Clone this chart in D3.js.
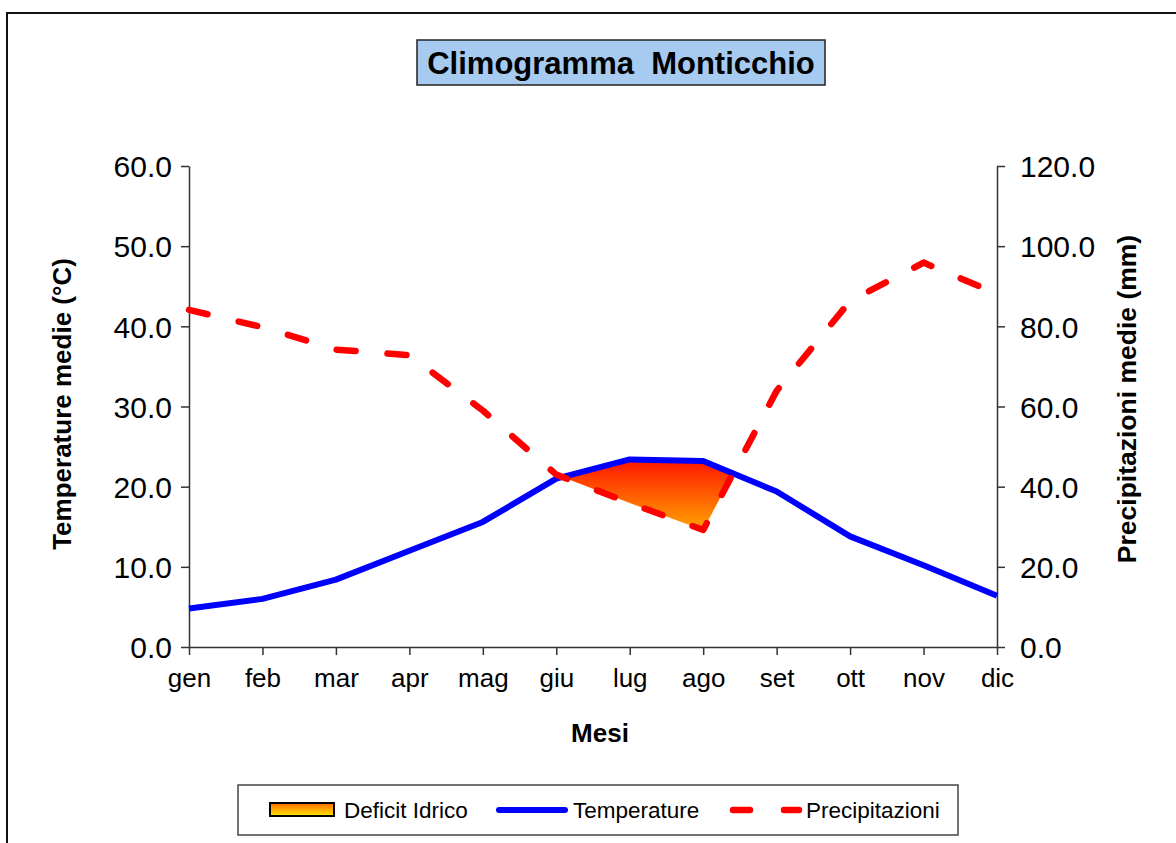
<!DOCTYPE html>
<html><head><meta charset="utf-8">
<script src="https://cdn.jsdelivr.net/npm/d3@7"></script>
<style>body{margin:0;background:#fff}svg{display:block}text{font-family:"Liberation Sans",Arial,sans-serif;fill:#000}</style>
</head><body>
<svg id="c" width="1176" height="843"></svg>
<script>
const months = ["gen","feb","mar","apr","mag","giu","lug","ago","set","ott","nov","dic"];
const temperature = [4.8, 6.0, 8.4, 12.0, 15.6, 21.0, 23.4, 23.2, 19.4, 13.8, 10.2, 6.4];
const precipitation = [84.1, 79.8, 74.2, 72.8, 59.0, 43.0, 35.9, 29.2, 63.9, 86.3, 95.9, 88.1];
const leftTicks = [0,10,20,30,40,50,60];
const rightTicks = [0,20,40,60,80,100,120];

const svg = d3.select("#c");
const L = 189, R = 997, T = 166, B = 647;
const x = d3.scalePoint().domain(months).range([L, R]);
const yT = d3.scaleLinear().domain([0,60]).range([B, T]);
const yP = d3.scaleLinear().domain([0,120]).range([B, T]);

// outer frame
svg.append("rect").attr("x",7).attr("y",13).attr("width",1300).attr("height",1000)
  .attr("fill","none").attr("stroke","#111").attr("stroke-width",2);

// gradients
const defs = svg.append("defs");
const g1 = defs.append("linearGradient").attr("id","defGrad").attr("x1",0).attr("y1",0).attr("x2",0).attr("y2",1);
g1.append("stop").attr("offset","0%").attr("stop-color","#ff1400");
g1.append("stop").attr("offset","100%").attr("stop-color","#ffa500");
const g2 = defs.append("linearGradient").attr("id","legGrad").attr("x1",0).attr("y1",0).attr("x2",0).attr("y2",1);
g2.append("stop").attr("offset","0%").attr("stop-color","#ff6a00");
g2.append("stop").attr("offset","100%").attr("stop-color","#ffe600");

// title
svg.append("rect").attr("x",417).attr("y",40).attr("width",408).attr("height",45)
  .attr("fill","#a6caf0").attr("stroke","#222").attr("stroke-width",1.5);
svg.append("text").attr("x",621).attr("y",74).attr("text-anchor","middle")
  .attr("font-size",31).attr("font-weight","bold").attr("xml:space","preserve")
  .style("white-space","pre").text("Climogramma  Monticchio");

// deficit polygon (where precipitation < 2*temperature, in mm units)
const n = months.length;
const tmm = temperature.map(v => v*2);
const polys = [];
let cur = null;
for (let i = 0; i < n; i++) {
  const d = tmm[i] - precipitation[i];
  if (i > 0) {
    const dp = tmm[i-1] - precipitation[i-1];
    if ((dp > 0) !== (d > 0)) {
      const f = dp / (dp - d);
      const xi = x(months[i-1]) + f*(x(months[i]) - x(months[i-1]));
      const vi = tmm[i-1] + f*(tmm[i]-tmm[i-1]);
      const pt = [xi, yP(vi)];
      if (d > 0) { cur = {up:[pt], lo:[pt]}; }
      else if (cur) { cur.up.push(pt); polys.push(cur); cur = null; }
    }
  }
  if (d > 0) {
    if (!cur) cur = {up:[], lo:[]};
    cur.up.push([x(months[i]), yP(tmm[i])]);
    cur.lo.push([x(months[i]), yP(precipitation[i])]);
  }
}
if (cur) polys.push(cur);
polys.forEach(p => {
  const pts = p.up.concat(p.lo.slice().reverse());
  svg.append("path").attr("d", d3.line()(pts) + "Z").attr("fill","url(#defGrad)").attr("stroke","none");
});

// axes
const axL = svg.append("g").attr("transform",`translate(${L},0)`)
  .call(d3.axisLeft(yT).tickValues(leftTicks).tickFormat(d3.format(".1f")).tickSize(8).tickSizeOuter(0));
const axR = svg.append("g").attr("transform",`translate(${R},0)`)
  .call(d3.axisRight(yP).tickValues(rightTicks).tickFormat(d3.format(".1f")).tickSize(8).tickSizeOuter(0));
const axB = svg.append("g").attr("transform",`translate(0,${B})`)
  .call(d3.axisBottom(x).tickSize(8).tickSizeOuter(0));
[axL, axR, axB].forEach(a => {
  a.selectAll("path,line").attr("stroke","#333").attr("stroke-width",1.5);
  a.selectAll("text").attr("font-family","Liberation Sans, Arial, sans-serif").attr("fill","#000");
});
axL.selectAll("text").attr("font-size",30).attr("x",-17).attr("dy","0.36em");
axR.selectAll("text").attr("font-size",30).attr("x",23).attr("dy","0.36em");
axB.selectAll("text").attr("font-size",26).attr("y",40).attr("dy",0);

// lines
svg.append("path").datum(temperature)
  .attr("d", d3.line().x((d,i)=>x(months[i])).y(d=>yT(d)))
  .attr("fill","none").attr("stroke","#0000ff").attr("stroke-width",6).attr("stroke-linejoin","round");
svg.append("path").datum(precipitation)
  .attr("d", d3.line().x((d,i)=>x(months[i])).y(d=>yP(d)))
  .attr("fill","none").attr("stroke","#ff0000").attr("stroke-width",6.5)
  .attr("stroke-dasharray","19,32").attr("stroke-linecap","round").attr("stroke-linejoin","round");

// axis titles
svg.append("text").attr("transform","translate(71,404) rotate(-90)").attr("text-anchor","middle")
  .attr("font-size",26).attr("font-weight","bold").text("Temperature medie (°C)");
svg.append("text").attr("transform","translate(1136,399) rotate(-90)").attr("text-anchor","middle")
  .attr("font-size",26.5).attr("font-weight","bold").text("Precipitazioni medie (mm)");
svg.append("text").attr("x",600).attr("y",742).attr("text-anchor","middle")
  .attr("font-size",26).attr("font-weight","bold").text("Mesi");

// legend
svg.append("rect").attr("x",238).attr("y",785).attr("width",720).attr("height",50)
  .attr("fill","#fff").attr("stroke","#444").attr("stroke-width",1.5);
svg.append("rect").attr("x",270).attr("y",803).attr("width",64).attr("height",13)
  .attr("fill","url(#legGrad)").attr("stroke","#000").attr("stroke-width",2);
svg.append("text").attr("x",344).attr("y",818).attr("font-size",22.5).text("Deficit Idrico");
svg.append("line").attr("x1",499).attr("x2",565).attr("y1",810).attr("y2",810)
  .attr("stroke","#0000ff").attr("stroke-width",6).attr("stroke-linecap","round");
svg.append("text").attr("x",573).attr("y",818).attr("font-size",22.5).text("Temperature");
svg.append("line").attr("x1",733).attr("x2",799).attr("y1",810).attr("y2",810)
  .attr("stroke","#ff0000").attr("stroke-width",6.5).attr("stroke-linecap","round").attr("stroke-dasharray","17,34");
svg.append("text").attr("x",806).attr("y",818).attr("font-size",22.5).text("Precipitazioni");
</script>
</body></html>
